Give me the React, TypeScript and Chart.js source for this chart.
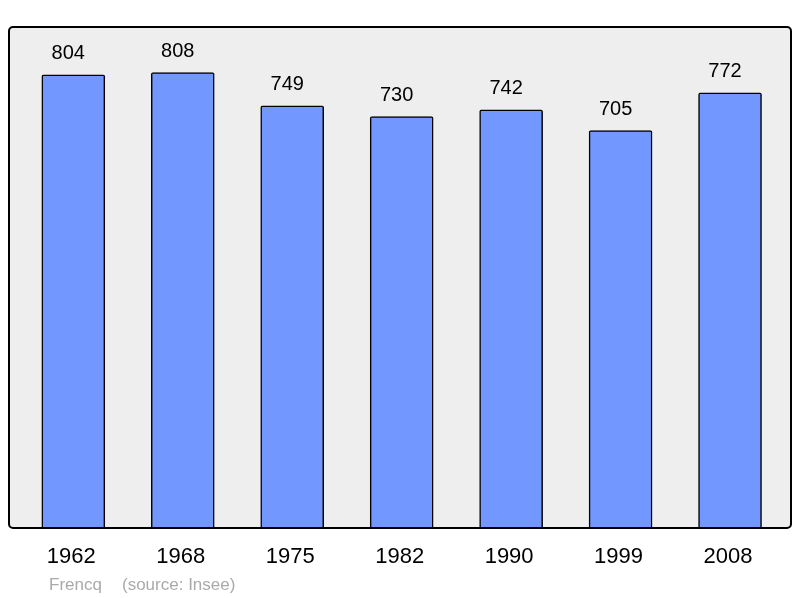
import React, { useEffect, useRef } from "react";
import { Chart, registerables } from "chart.js";

Chart.register(...registerables);

const years = ["1962", "1968", "1975", "1982", "1990", "1999", "2008"];
const population = [804, 808, 749, 730, 742, 705, 772];
const footerAuthor = "Frencq";
const footerSource = "(source: Insee)";

const FONT = "'Liberation Sans', Arial, sans-serif";

const framePlugin = {
  id: "frame",
  beforeDatasetsDraw(chart: any) {
    const { ctx, chartArea: a } = chart;
    ctx.save();
    ctx.fillStyle = "#eeeeee";
    ctx.beginPath();
    ctx.roundRect(a.left, a.top, a.right - a.left, a.bottom - a.top, 4);
    ctx.fill();
    ctx.restore();
  },
  afterDatasetsDraw(chart: any) {
    const { ctx, chartArea: a } = chart;
    const xs = chart.scales.x;
    const ys = chart.scales.y;
    ctx.save();
    ctx.strokeStyle = "#000";
    ctx.lineWidth = 2;
    ctx.beginPath();
    ctx.roundRect(a.left, a.top, a.right - a.left, a.bottom - a.top, 4);
    ctx.stroke();

    ctx.fillStyle = "#000";
    ctx.textAlign = "center";
    ctx.textBaseline = "middle";
    ctx.font = `20px ${FONT}`;
    population.forEach((v, i) => {
      ctx.fillText(String(v), xs.getPixelForValue(i) - 5, ys.getPixelForValue(v) - 21.5);
    });
    ctx.font = `22px ${FONT}`;
    years.forEach((y, i) => {
      ctx.fillText(y, xs.getPixelForValue(i) - 2, a.bottom + 29);
    });

    ctx.textAlign = "left";
    ctx.fillStyle = "#aaaaaa";
    ctx.font = `17px ${FONT}`;
    ctx.fillText(footerAuthor, a.left + 40, a.bottom + 57);
    ctx.fillText(footerSource, a.left + 113, a.bottom + 57);
    ctx.restore();
  },
};

export default function App() {
  const ref = useRef<HTMLCanvasElement>(null);
  useEffect(() => {
    if (!ref.current) return;
    const chart = new Chart(ref.current, {
      type: "bar",
      data: {
        datasets: [
          {
            data: population.map((v, i) => ({ x: i, y: v })),
            backgroundColor: "#7298ff",
            borderColor: "#000",
            borderWidth: 1.5,
            borderRadius: 2,
            barThickness: 63,
          },
        ],
      },
      options: {
        animation: false,
        responsive: false,
        layout: { padding: { left: 9, top: 27, right: 9, bottom: 70 } },
        plugins: { legend: { display: false }, tooltip: { enabled: false } },
        scales: {
          x: { type: "linear", min: -0.5875, max: 6.557, display: false, offset: false },
          y: { min: 0, max: 889, display: false },
        },
      },
      plugins: [framePlugin],
    });
    return () => chart.destroy();
  }, []);
  return (
    <div style={{ position: "fixed", left: 0, top: 0, width: 800, height: 598, background: "#fff" }}>
      <canvas ref={ref} width={800} height={598} style={{ width: 800, height: 598 }} />
    </div>
  );
}
